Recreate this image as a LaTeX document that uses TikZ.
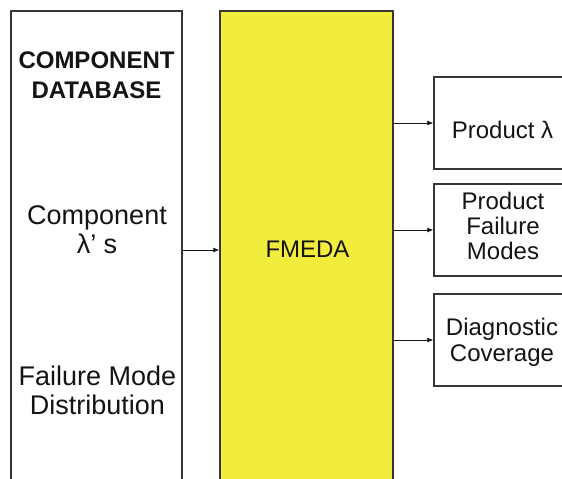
\documentclass[tikz,border=0pt]{standalone}
\usepackage{fontspec}
\setmainfont{Liberation Sans}
\usetikzlibrary{arrows.meta}
\definecolor{fmedayellow}{RGB}{242,236,60}
\definecolor{edgegray}{RGB}{55,55,55}
\definecolor{ink}{RGB}{20,20,20}
\begin{document}
\begin{tikzpicture}[x=1pt,y=-1pt,
  box/.style={draw=edgegray,line width=1.5pt,rectangle,inner sep=0pt},
  lbl/.style={anchor=base,inner sep=0pt,text=ink,font=\fontsize{24}{26}\selectfont},
  biglbl/.style={anchor=base,inner sep=0pt,text=ink,font=\fontsize{27}{29}\selectfont},
  head/.style={anchor=base,inner sep=0pt,text=ink,font=\fontsize{24}{26}\selectfont\bfseries},
  arr/.style={-{Latex[length=6pt,width=5pt]},line width=0.8pt,draw=ink}]
\useasboundingbox (0,0) rectangle (562,479);
\clip (0,0) rectangle (562,479);

% tall input and analysis columns (open below the frame)
\node[box,fill=white,minimum width=171pt,minimum height=478pt] (db) at (96.5,250) {};
\node[box,fill=fmedayellow,minimum width=173pt,minimum height=478pt] (fmeda) at (306.5,250) {};

% output boxes (run past the right edge)
\node[box,fill=white,minimum width=138pt,minimum height=92pt] (out1) at (503,123) {};
\node[box,fill=white,minimum width=138pt,minimum height=92pt] (out2) at (503,230) {};
\node[box,fill=white,minimum width=138pt,minimum height=92pt] (out3) at (503,340) {};

% database column labels
\node[head] (h1) at (96.5,68) {COMPONENT};
\node[head] (h2) at (96.5,98) {DATABASE};
\node[biglbl] (c1) at (97,224) {Component};
\node[biglbl] (c2) at (97,253) {λ’ s};
\node[biglbl] (d1) at (97.5,385) {Failure Mode};
\node[biglbl] (d2) at (97.5,414) {Distribution};

% analysis label
\node[lbl] (f1) at (307.5,257) {FMEDA};

% output labels
\node[lbl] (o1) at (502.5,138) {Product λ};
\node[lbl] (o2a) at (503,209) {Product};
\node[lbl] (o2b) at (503,234) {Failure};
\node[lbl] (o2c) at (503,259) {Modes};
\node[lbl] (o3a) at (502,335) {Diagnostic};
\node[lbl] (o3b) at (502,361) {Coverage};

% connectors
\draw[arr] (db.east) -- (fmeda.west);
\draw[arr] (fmeda.east |- out1.west) -- (out1.west);
\draw[arr] (fmeda.east |- out2.west) -- (out2.west);
\draw[arr] (fmeda.east |- out3.west) -- (out3.west);
\end{tikzpicture}
\end{document}
